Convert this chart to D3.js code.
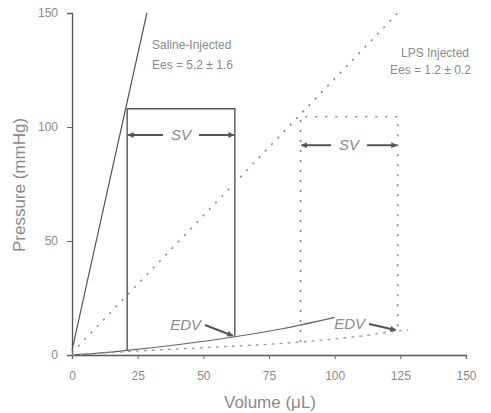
<!DOCTYPE html>
<html>
<head>
<meta charset="utf-8">
<script src="https://cdn.jsdelivr.net/npm/d3@7"></script>
<style>
  body { margin: 0; background: #fff; }
  text { font-family: "Liberation Sans", Arial, sans-serif; fill: #8a8a8a; }
</style>
</head>
<body>
<svg id="chart" width="491" height="413"></svg>
<script>
// axis ticks
var volumeTicks = [0, 25, 50, 75, 100, 125, 150];
var pressureTicks = [0, 50, 100, 150];

// end-systolic pressure-volume relations [volume, pressure]
var salineESPVR = [[0, 2], [28.5, 150]];
var lpsESPVR = [[0, 1], [124, 150]];

// end-diastolic pressure-volume relations
var salineEDPVR = [[0, 0], [10, 0.8], [21, 2], [40, 4.5], [62, 8], [80, 11.5], [100, 16.5]];
var lpsEDPVR = [[0, 0], [21, 1.5], [50, 3.2], [87, 5.7], [110, 8.3], [124, 10.5], [128, 11]];

// pressure-volume loops (ESV -> EDV)
var salineLoop = [[21, 2], [21, 108], [62, 108], [62, 8]];
var lpsLoop = [[87, 5.7], [87, 104.5], [124, 104.5], [124, 10.5]];

var svg = d3.select("#chart");

var x = d3.scaleLinear().domain([0, 150]).range([72, 466]);
var y = d3.scaleLinear().domain([0, 150]).range([355, 13]);

var line = d3.line().x(function (d) { return x(d[0]); }).y(function (d) { return y(d[1]); });
var curve = d3.line().x(function (d) { return x(d[0]); }).y(function (d) { return y(d[1]); }).curve(d3.curveMonotoneX);

// arrow head marker
svg.append("defs").append("marker")
    .attr("id", "arrow")
    .attr("viewBox", "0 0 10 10")
    .attr("refX", 9).attr("refY", 5)
    .attr("markerWidth", 7).attr("markerHeight", 6)
    .attr("markerUnits", "userSpaceOnUse")
    .attr("orient", "auto")
    .append("path").attr("d", "M0,0L10,5L0,10Z").attr("fill", "#555");

// axes
var xAxis = svg.append("g").attr("transform", "translate(0," + y(0) + ")")
    .call(d3.axisBottom(x).tickValues(volumeTicks).tickSize(4).tickPadding(12));
var yAxis = svg.append("g").attr("transform", "translate(" + x(0) + ",0)")
    .call(d3.axisLeft(y).tickValues(pressureTicks).tickSize(5).tickPadding(9));
[xAxis, yAxis].forEach(function (a) {
    a.select(".domain").attr("stroke", "#555").attr("stroke-width", 1.3);
    a.selectAll(".tick line").attr("stroke", "#666");
    a.selectAll(".tick text").attr("font-size", 12).attr("fill", "#8a8a8a");
});

svg.append("text").attr("x", 270).attr("y", 408).attr("text-anchor", "middle")
    .attr("font-size", 17).text("Volume (\u03bcL)");
svg.append("text").attr("transform", "translate(25,185) rotate(-90)").attr("text-anchor", "middle")
    .attr("font-size", 17).text("Pressure (mmHg)");

// saline (solid)
svg.append("path").attr("d", line(salineESPVR)).attr("fill", "none").attr("stroke", "#555").attr("stroke-width", 1.2);
svg.append("path").attr("d", curve(salineEDPVR)).attr("fill", "none").attr("stroke", "#666").attr("stroke-width", 1.2);
svg.append("path").attr("d", line(salineLoop)).attr("fill", "none").attr("stroke", "#555").attr("stroke-width", 1.4);

// LPS (dotted)
svg.append("path").attr("d", line(lpsESPVR)).attr("fill", "none").attr("stroke", "#888")
    .attr("stroke-width", 1.6).attr("stroke-dasharray", "2,7");
svg.append("path").attr("d", curve(lpsEDPVR)).attr("fill", "none").attr("stroke", "#999")
    .attr("stroke-width", 1.3).attr("stroke-dasharray", "3,5");
svg.append("path").attr("d", line(lpsLoop)).attr("fill", "none").attr("stroke", "#888")
    .attr("stroke-width", 1.6).attr("stroke-dasharray", "2,8");

// group labels
svg.append("text").attr("x", 152).attr("y", 49).attr("font-size", 12).text("Saline-Injected");
svg.append("text").attr("x", 152).attr("y", 69).attr("font-size", 12).text("Ees = 5.2 \u00b1 1.6");
svg.append("text").attr("x", 401).attr("y", 57).attr("font-size", 12).text("LPS Injected");
svg.append("text").attr("x", 390).attr("y", 74).attr("font-size", 12).text("Ees = 1.2 \u00b1 0.2");

// SV arrows
function svArrow(loop, p) {
    var x0 = x(loop[0][0]), x1 = x(loop[2][0]), mid = (x0 + x1) / 2, yy = y(p);
    svg.append("line").attr("x1", mid - 18).attr("x2", x0 + 1).attr("y1", yy).attr("y2", yy)
        .attr("stroke", "#555").attr("stroke-width", 2).attr("marker-end", "url(#arrow)");
    svg.append("line").attr("x1", mid + 18).attr("x2", x1 - 1).attr("y1", yy).attr("y2", yy)
        .attr("stroke", "#555").attr("stroke-width", 2).attr("marker-end", "url(#arrow)");
    svg.append("text").attr("x", mid).attr("y", yy + 5).attr("text-anchor", "middle")
        .attr("font-size", 15).attr("font-style", "italic").text("SV");
}
svArrow(salineLoop, 96.5);
svArrow(lpsLoop, 92);

// EDV labels
function edvArrow(loop, tx, ty) {
    var end = loop[3];
    svg.append("text").attr("x", tx).attr("y", ty).attr("text-anchor", "end")
        .attr("font-size", 15).attr("font-style", "italic").text("EDV");
    svg.append("line").attr("x1", tx + 4).attr("y1", ty - 5).attr("x2", x(end[0]) - 2).attr("y2", y(end[1]) - 1)
        .attr("stroke", "#555").attr("stroke-width", 2).attr("marker-end", "url(#arrow)");
}
edvArrow(salineLoop, 201, 330);
edvArrow(lpsLoop, 365, 329);
</script>
</body>
</html>
